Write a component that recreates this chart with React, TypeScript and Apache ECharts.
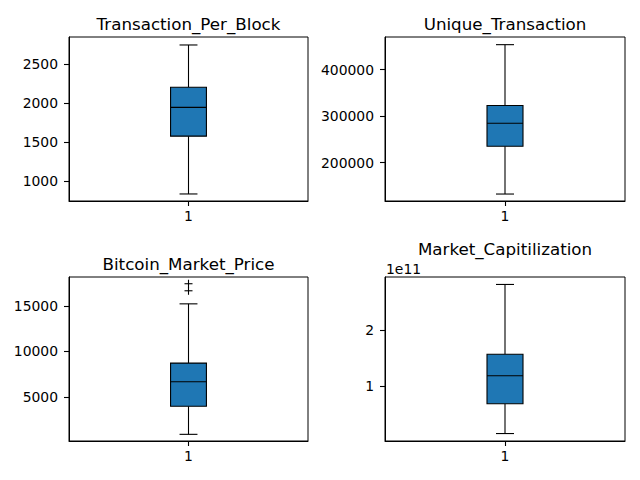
import React, { useEffect, useRef } from "react";
import * as echarts from "echarts";

const titles = ["Transaction_Per_Block", "Unique_Transaction", "Bitcoin_Market_Price", "Market_Capitilization"];
// [low whisker, q1, median, q3, high whisker]
const txPerBlock = [838, 1577, 1945, 2202, 2743];
const uniqueTx = [132400, 235400, 284900, 322900, 454000];
const marketPrice = [882, 3973, 6655, 8708, 15220];
const marketCap = [0.148e11, 0.679e11, 1.179e11, 1.564e11, 2.809e11];
const priceOutliers = [17430, 16656];
const tickValues = [
  [1000, 1500, 2000, 2500],
  [200000, 300000, 400000],
  [5000, 10000, 15000],
  [1e11, 2e11],
];
const yRanges = [
  [748, 2845],
  [117400, 470500],
  [150, 18170],
  [0.015e11, 2.942e11],
];
const boxes = [txPerBlock, uniqueTx, marketPrice, marketCap];
const outliers = [[], [], priceOutliers, []];

const FONT = "DejaVu Sans";
const grids = [
  { left: 69, top: 37, width: 239, height: 164 },
  { left: 385, top: 37, width: 240, height: 164 },
  { left: 69, top: 277, width: 239, height: 164 },
  { left: 385, top: 277, width: 240, height: 164 },
];
const titleY = [23.5, 23.5, 263.5, 248.5];
const LW = 1.1;

export default function App() {
  const ref = useRef<HTMLDivElement>(null);
  useEffect(() => {
    const chart = echarts.init(ref.current!, null, { renderer: "svg" });
    const series: any[] = [];
    boxes.forEach((b, i) => {
      series.push({
        type: "custom",
        xAxisIndex: i,
        yAxisIndex: i,
        data: [[1, ...b]],
        renderItem: (params: any, api: any) => {
          const x = api.value(0);
          const pLow = api.coord([x, api.value(1)]);
          const pQ1 = api.coord([x, api.value(2)]);
          const pMed = api.coord([x, api.value(3)]);
          const pQ3 = api.coord([x, api.value(4)]);
          const pHigh = api.coord([x, api.value(5)]);
          const bw = api.size([0.15, 0])[0];
          const cw = bw / 2;
          const cx = pMed[0];
          const ls = { stroke: "#000", lineWidth: LW };
          return {
            type: "group",
            children: [
              { type: "line", shape: { x1: cx, y1: pLow[1], x2: cx, y2: pQ1[1] }, style: ls },
              { type: "line", shape: { x1: cx, y1: pQ3[1], x2: cx, y2: pHigh[1] }, style: ls },
              { type: "line", shape: { x1: cx - cw / 2, y1: pLow[1], x2: cx + cw / 2, y2: pLow[1] }, style: ls },
              { type: "line", shape: { x1: cx - cw / 2, y1: pHigh[1], x2: cx + cw / 2, y2: pHigh[1] }, style: ls },
              {
                type: "rect",
                shape: { x: cx - bw / 2, y: pQ3[1], width: bw, height: pQ1[1] - pQ3[1] },
                style: { fill: "#1f77b4", stroke: "#000", lineWidth: LW },
              },
              { type: "line", shape: { x1: cx - bw / 2, y1: pMed[1], x2: cx + bw / 2, y2: pMed[1] }, style: ls },
            ],
          };
        },
      });
      if (outliers[i].length) {
        series.push({
          type: "custom",
          xAxisIndex: i,
          yAxisIndex: i,
          data: outliers[i].map((v) => [1, v]),
          renderItem: (params: any, api: any) => {
            const p = api.coord([api.value(0), api.value(1)]);
            const s = 4;
            const ls = { stroke: "#000", lineWidth: LW };
            return {
              type: "group",
              children: [
                { type: "line", shape: { x1: p[0] - s, y1: p[1], x2: p[0] + s, y2: p[1] }, style: ls },
                { type: "line", shape: { x1: p[0], y1: p[1] - s, x2: p[0], y2: p[1] + s }, style: ls },
              ],
            };
          },
        });
      }
    });

    const option: any = {
      animation: false,
      backgroundColor: "#fff",
      textStyle: { fontFamily: FONT },
      grid: grids.map((g) => ({
        ...g,
        show: true,
        borderColor: "#000",
        borderWidth: 1,
        backgroundColor: "transparent",
      })),
      xAxis: grids.map((g, i) => ({
        type: "value",
        gridIndex: i,
        min: 0.5,
        max: 1.5,
        splitLine: { show: false },
        axisLine: { show: true, lineStyle: { color: "#000", width: 1 } },
        axisTick: { show: true, customValues: [1], length: 5, lineStyle: { color: "#000", width: LW } },
        axisLabel: {
          customValues: [1],
          formatter: (v: number) => String(v),
          fontFamily: FONT,
          fontSize: 13.9,
          color: "#000",
          margin: 8,
        },
      })),
      yAxis: grids.map((g, i) => ({
        type: "value",
        gridIndex: i,
        min: yRanges[i][0],
        max: yRanges[i][1],
        splitLine: { show: false },
        axisLine: { show: true, lineStyle: { color: "#000", width: 1 } },
        axisTick: { show: true, customValues: tickValues[i], length: 5, lineStyle: { color: "#000", width: LW } },
        axisLabel: {
          customValues: tickValues[i],
          formatter: (v: number) => (i === 3 ? String(Math.round(v / 1e11)) : String(v)),
          fontFamily: FONT,
          fontSize: 13.9,
          color: "#000",
          margin: 11,
        },
      })),
      series,
      graphic: [
        ...titles.map((t, i) => ({
          type: "text",
          x: grids[i].left + grids[i].width / 2,
          y: titleY[i],
          style: {
            text: t,
            fontFamily: FONT,
            fontSize: 16.7,
            fill: "#000",
            textAlign: "center",
            textVerticalAlign: "middle",
          },
        })),
        {
          type: "text",
          x: 386,
          y: 269,
          style: {
            text: "1e11",
            fontFamily: FONT,
            fontSize: 13.9,
            fill: "#000",
            textAlign: "left",
            textVerticalAlign: "middle",
          },
        },
      ],
    };
    chart.setOption(option);
    return () => chart.dispose();
  }, []);
  return (
    <div
      ref={ref}
      style={{ position: "fixed", left: 0, top: 0, width: 640, height: 480, background: "#fff" }}
    />
  );
}
